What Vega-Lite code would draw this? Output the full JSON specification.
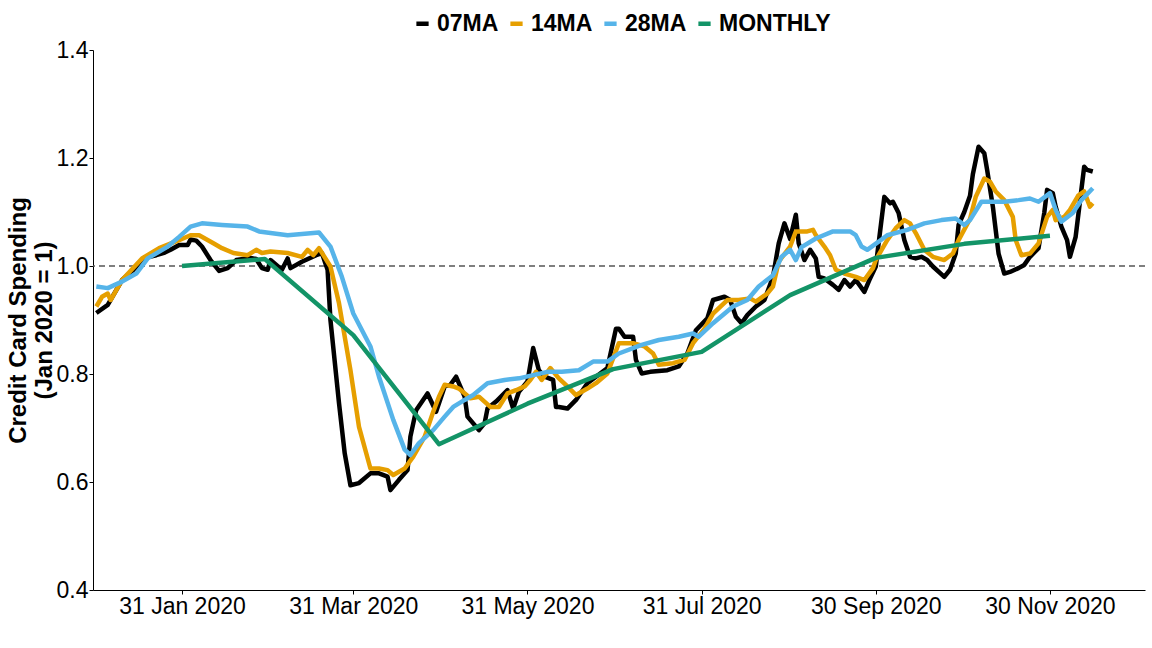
{
  "$schema": "https://vega.github.io/schema/vega-lite/v6.json",
  "width": 1052,
  "height": 540,
  "autosize": {"type": "none"},
  "padding": {"left": 93, "top": 50, "right": 7, "bottom": 58},
  "background": "white",
  "config": {"view": {"stroke": null}, "font": "Liberation Sans"},
  "datasets": {
    "spending": [
      {"date": "2020-01-01", "series": "07MA", "value": 0.913},
      {"date": "2020-01-05", "series": "07MA", "value": 0.928},
      {"date": "2020-01-10", "series": "07MA", "value": 0.974},
      {"date": "2020-01-14", "series": "07MA", "value": 0.993},
      {"date": "2020-01-18", "series": "07MA", "value": 1.015},
      {"date": "2020-01-22", "series": "07MA", "value": 1.02},
      {"date": "2020-01-25", "series": "07MA", "value": 1.025},
      {"date": "2020-01-27", "series": "07MA", "value": 1.03},
      {"date": "2020-01-30", "series": "07MA", "value": 1.039},
      {"date": "2020-02-02", "series": "07MA", "value": 1.039},
      {"date": "2020-02-03", "series": "07MA", "value": 1.049},
      {"date": "2020-02-05", "series": "07MA", "value": 1.047},
      {"date": "2020-02-07", "series": "07MA", "value": 1.036},
      {"date": "2020-02-10", "series": "07MA", "value": 1.011},
      {"date": "2020-02-13", "series": "07MA", "value": 0.991},
      {"date": "2020-02-16", "series": "07MA", "value": 0.996},
      {"date": "2020-02-19", "series": "07MA", "value": 1.011},
      {"date": "2020-02-24", "series": "07MA", "value": 1.015},
      {"date": "2020-02-26", "series": "07MA", "value": 1.013},
      {"date": "2020-02-28", "series": "07MA", "value": 0.996},
      {"date": "2020-03-01", "series": "07MA", "value": 0.993},
      {"date": "2020-03-02", "series": "07MA", "value": 1.011},
      {"date": "2020-03-06", "series": "07MA", "value": 0.993},
      {"date": "2020-03-08", "series": "07MA", "value": 1.014},
      {"date": "2020-03-09", "series": "07MA", "value": 0.996},
      {"date": "2020-03-13", "series": "07MA", "value": 1.008},
      {"date": "2020-03-18", "series": "07MA", "value": 1.02},
      {"date": "2020-03-20", "series": "07MA", "value": 1.024},
      {"date": "2020-03-22", "series": "07MA", "value": 0.993},
      {"date": "2020-03-23", "series": "07MA", "value": 0.9},
      {"date": "2020-03-26", "series": "07MA", "value": 0.746},
      {"date": "2020-03-28", "series": "07MA", "value": 0.653},
      {"date": "2020-03-30", "series": "07MA", "value": 0.594},
      {"date": "2020-04-02", "series": "07MA", "value": 0.598},
      {"date": "2020-04-06", "series": "07MA", "value": 0.616},
      {"date": "2020-04-09", "series": "07MA", "value": 0.616},
      {"date": "2020-04-12", "series": "07MA", "value": 0.61},
      {"date": "2020-04-13", "series": "07MA", "value": 0.585},
      {"date": "2020-04-16", "series": "07MA", "value": 0.604},
      {"date": "2020-04-19", "series": "07MA", "value": 0.622},
      {"date": "2020-04-20", "series": "07MA", "value": 0.684},
      {"date": "2020-04-22", "series": "07MA", "value": 0.733},
      {"date": "2020-04-26", "series": "07MA", "value": 0.764},
      {"date": "2020-04-29", "series": "07MA", "value": 0.73},
      {"date": "2020-05-02", "series": "07MA", "value": 0.777},
      {"date": "2020-05-04", "series": "07MA", "value": 0.78},
      {"date": "2020-05-06", "series": "07MA", "value": 0.795},
      {"date": "2020-05-09", "series": "07MA", "value": 0.758},
      {"date": "2020-05-10", "series": "07MA", "value": 0.721},
      {"date": "2020-05-14", "series": "07MA", "value": 0.696},
      {"date": "2020-05-16", "series": "07MA", "value": 0.709},
      {"date": "2020-05-17", "series": "07MA", "value": 0.736},
      {"date": "2020-05-20", "series": "07MA", "value": 0.749},
      {"date": "2020-05-24", "series": "07MA", "value": 0.77},
      {"date": "2020-05-26", "series": "07MA", "value": 0.736},
      {"date": "2020-05-28", "series": "07MA", "value": 0.767},
      {"date": "2020-05-31", "series": "07MA", "value": 0.786},
      {"date": "2020-06-02", "series": "07MA", "value": 0.848},
      {"date": "2020-06-04", "series": "07MA", "value": 0.807},
      {"date": "2020-06-06", "series": "07MA", "value": 0.795},
      {"date": "2020-06-09", "series": "07MA", "value": 0.789},
      {"date": "2020-06-10", "series": "07MA", "value": 0.739},
      {"date": "2020-06-11", "series": "07MA", "value": 0.739},
      {"date": "2020-06-14", "series": "07MA", "value": 0.736},
      {"date": "2020-06-17", "series": "07MA", "value": 0.752},
      {"date": "2020-06-21", "series": "07MA", "value": 0.783},
      {"date": "2020-06-24", "series": "07MA", "value": 0.795},
      {"date": "2020-06-28", "series": "07MA", "value": 0.811},
      {"date": "2020-07-01", "series": "07MA", "value": 0.884},
      {"date": "2020-07-02", "series": "07MA", "value": 0.884},
      {"date": "2020-07-04", "series": "07MA", "value": 0.869},
      {"date": "2020-07-07", "series": "07MA", "value": 0.869},
      {"date": "2020-07-08", "series": "07MA", "value": 0.826},
      {"date": "2020-07-10", "series": "07MA", "value": 0.801},
      {"date": "2020-07-13", "series": "07MA", "value": 0.804},
      {"date": "2020-07-19", "series": "07MA", "value": 0.807},
      {"date": "2020-07-23", "series": "07MA", "value": 0.814},
      {"date": "2020-07-26", "series": "07MA", "value": 0.838},
      {"date": "2020-07-29", "series": "07MA", "value": 0.881},
      {"date": "2020-08-02", "series": "07MA", "value": 0.903},
      {"date": "2020-08-04", "series": "07MA", "value": 0.937},
      {"date": "2020-08-08", "series": "07MA", "value": 0.943},
      {"date": "2020-08-10", "series": "07MA", "value": 0.937},
      {"date": "2020-08-12", "series": "07MA", "value": 0.906},
      {"date": "2020-08-14", "series": "07MA", "value": 0.894},
      {"date": "2020-08-16", "series": "07MA", "value": 0.909},
      {"date": "2020-08-19", "series": "07MA", "value": 0.925},
      {"date": "2020-08-22", "series": "07MA", "value": 0.937},
      {"date": "2020-08-25", "series": "07MA", "value": 0.98},
      {"date": "2020-08-27", "series": "07MA", "value": 1.042},
      {"date": "2020-08-29", "series": "07MA", "value": 1.079},
      {"date": "2020-08-31", "series": "07MA", "value": 1.05},
      {"date": "2020-09-02", "series": "07MA", "value": 1.095},
      {"date": "2020-09-03", "series": "07MA", "value": 1.042},
      {"date": "2020-09-05", "series": "07MA", "value": 1.011},
      {"date": "2020-09-07", "series": "07MA", "value": 1.03},
      {"date": "2020-09-09", "series": "07MA", "value": 1.014},
      {"date": "2020-09-10", "series": "07MA", "value": 0.98},
      {"date": "2020-09-12", "series": "07MA", "value": 0.977},
      {"date": "2020-09-15", "series": "07MA", "value": 0.965},
      {"date": "2020-09-17", "series": "07MA", "value": 0.956},
      {"date": "2020-09-19", "series": "07MA", "value": 0.974},
      {"date": "2020-09-21", "series": "07MA", "value": 0.962},
      {"date": "2020-09-23", "series": "07MA", "value": 0.974},
      {"date": "2020-09-26", "series": "07MA", "value": 0.952},
      {"date": "2020-09-28", "series": "07MA", "value": 0.977},
      {"date": "2020-09-30", "series": "07MA", "value": 0.999},
      {"date": "2020-10-02", "series": "07MA", "value": 1.085},
      {"date": "2020-10-03", "series": "07MA", "value": 1.128},
      {"date": "2020-10-05", "series": "07MA", "value": 1.116},
      {"date": "2020-10-06", "series": "07MA", "value": 1.119},
      {"date": "2020-10-08", "series": "07MA", "value": 1.098},
      {"date": "2020-10-10", "series": "07MA", "value": 1.048},
      {"date": "2020-10-12", "series": "07MA", "value": 1.017},
      {"date": "2020-10-14", "series": "07MA", "value": 1.014},
      {"date": "2020-10-16", "series": "07MA", "value": 1.017},
      {"date": "2020-10-18", "series": "07MA", "value": 1.011},
      {"date": "2020-10-20", "series": "07MA", "value": 0.999},
      {"date": "2020-10-24", "series": "07MA", "value": 0.98},
      {"date": "2020-10-26", "series": "07MA", "value": 0.993},
      {"date": "2020-10-28", "series": "07MA", "value": 1.023},
      {"date": "2020-10-29", "series": "07MA", "value": 1.076},
      {"date": "2020-10-31", "series": "07MA", "value": 1.1},
      {"date": "2020-11-02", "series": "07MA", "value": 1.13},
      {"date": "2020-11-03", "series": "07MA", "value": 1.17},
      {"date": "2020-11-05", "series": "07MA", "value": 1.221},
      {"date": "2020-11-07", "series": "07MA", "value": 1.209},
      {"date": "2020-11-08", "series": "07MA", "value": 1.178},
      {"date": "2020-11-10", "series": "07MA", "value": 1.11},
      {"date": "2020-11-12", "series": "07MA", "value": 1.023},
      {"date": "2020-11-14", "series": "07MA", "value": 0.986},
      {"date": "2020-11-16", "series": "07MA", "value": 0.989},
      {"date": "2020-11-19", "series": "07MA", "value": 0.996},
      {"date": "2020-11-21", "series": "07MA", "value": 1.002},
      {"date": "2020-11-23", "series": "07MA", "value": 1.017},
      {"date": "2020-11-26", "series": "07MA", "value": 1.033},
      {"date": "2020-11-28", "series": "07MA", "value": 1.098},
      {"date": "2020-11-29", "series": "07MA", "value": 1.141},
      {"date": "2020-12-01", "series": "07MA", "value": 1.135},
      {"date": "2020-12-02", "series": "07MA", "value": 1.11},
      {"date": "2020-12-04", "series": "07MA", "value": 1.073},
      {"date": "2020-12-06", "series": "07MA", "value": 1.048},
      {"date": "2020-12-07", "series": "07MA", "value": 1.017},
      {"date": "2020-12-09", "series": "07MA", "value": 1.054},
      {"date": "2020-12-11", "series": "07MA", "value": 1.141},
      {"date": "2020-12-12", "series": "07MA", "value": 1.184},
      {"date": "2020-12-13", "series": "07MA", "value": 1.178},
      {"date": "2020-12-15", "series": "07MA", "value": 1.175},

      {"date": "2020-01-01", "series": "14MA", "value": 0.925},
      {"date": "2020-01-03", "series": "14MA", "value": 0.943},
      {"date": "2020-01-05", "series": "14MA", "value": 0.949},
      {"date": "2020-01-06", "series": "14MA", "value": 0.937},
      {"date": "2020-01-10", "series": "14MA", "value": 0.974},
      {"date": "2020-01-17", "series": "14MA", "value": 1.014},
      {"date": "2020-01-23", "series": "14MA", "value": 1.033},
      {"date": "2020-01-30", "series": "14MA", "value": 1.048},
      {"date": "2020-02-03", "series": "14MA", "value": 1.057},
      {"date": "2020-02-06", "series": "14MA", "value": 1.057},
      {"date": "2020-02-11", "series": "14MA", "value": 1.042},
      {"date": "2020-02-14", "series": "14MA", "value": 1.033},
      {"date": "2020-02-18", "series": "14MA", "value": 1.024},
      {"date": "2020-02-23", "series": "14MA", "value": 1.02},
      {"date": "2020-02-26", "series": "14MA", "value": 1.03},
      {"date": "2020-02-28", "series": "14MA", "value": 1.024},
      {"date": "2020-03-02", "series": "14MA", "value": 1.027},
      {"date": "2020-03-08", "series": "14MA", "value": 1.024},
      {"date": "2020-03-13", "series": "14MA", "value": 1.017},
      {"date": "2020-03-15", "series": "14MA", "value": 1.03},
      {"date": "2020-03-17", "series": "14MA", "value": 1.02},
      {"date": "2020-03-19", "series": "14MA", "value": 1.033},
      {"date": "2020-03-23", "series": "14MA", "value": 0.999},
      {"date": "2020-03-26", "series": "14MA", "value": 0.931},
      {"date": "2020-03-30", "series": "14MA", "value": 0.807},
      {"date": "2020-04-02", "series": "14MA", "value": 0.702},
      {"date": "2020-04-06", "series": "14MA", "value": 0.625},
      {"date": "2020-04-09", "series": "14MA", "value": 0.625},
      {"date": "2020-04-12", "series": "14MA", "value": 0.622},
      {"date": "2020-04-14", "series": "14MA", "value": 0.613},
      {"date": "2020-04-18", "series": "14MA", "value": 0.625},
      {"date": "2020-04-21", "series": "14MA", "value": 0.647},
      {"date": "2020-04-25", "series": "14MA", "value": 0.684},
      {"date": "2020-04-28", "series": "14MA", "value": 0.73},
      {"date": "2020-04-30", "series": "14MA", "value": 0.758},
      {"date": "2020-05-02", "series": "14MA", "value": 0.78},
      {"date": "2020-05-05", "series": "14MA", "value": 0.777},
      {"date": "2020-05-07", "series": "14MA", "value": 0.773},
      {"date": "2020-05-11", "series": "14MA", "value": 0.755},
      {"date": "2020-05-14", "series": "14MA", "value": 0.758},
      {"date": "2020-05-18", "series": "14MA", "value": 0.739},
      {"date": "2020-05-21", "series": "14MA", "value": 0.739},
      {"date": "2020-05-24", "series": "14MA", "value": 0.764},
      {"date": "2020-05-27", "series": "14MA", "value": 0.77},
      {"date": "2020-05-30", "series": "14MA", "value": 0.777},
      {"date": "2020-06-01", "series": "14MA", "value": 0.789},
      {"date": "2020-06-03", "series": "14MA", "value": 0.804},
      {"date": "2020-06-05", "series": "14MA", "value": 0.789},
      {"date": "2020-06-08", "series": "14MA", "value": 0.811},
      {"date": "2020-06-11", "series": "14MA", "value": 0.792},
      {"date": "2020-06-14", "series": "14MA", "value": 0.777},
      {"date": "2020-06-17", "series": "14MA", "value": 0.761},
      {"date": "2020-06-21", "series": "14MA", "value": 0.773},
      {"date": "2020-06-24", "series": "14MA", "value": 0.783},
      {"date": "2020-06-28", "series": "14MA", "value": 0.801},
      {"date": "2020-06-29", "series": "14MA", "value": 0.815},
      {"date": "2020-07-02", "series": "14MA", "value": 0.857},
      {"date": "2020-07-07", "series": "14MA", "value": 0.857},
      {"date": "2020-07-11", "series": "14MA", "value": 0.851},
      {"date": "2020-07-14", "series": "14MA", "value": 0.838},
      {"date": "2020-07-16", "series": "14MA", "value": 0.817},
      {"date": "2020-07-21", "series": "14MA", "value": 0.82},
      {"date": "2020-07-25", "series": "14MA", "value": 0.826},
      {"date": "2020-07-28", "series": "14MA", "value": 0.857},
      {"date": "2020-08-01", "series": "14MA", "value": 0.884},
      {"date": "2020-08-04", "series": "14MA", "value": 0.912},
      {"date": "2020-08-09", "series": "14MA", "value": 0.937},
      {"date": "2020-08-13", "series": "14MA", "value": 0.937},
      {"date": "2020-08-17", "series": "14MA", "value": 0.94},
      {"date": "2020-08-19", "series": "14MA", "value": 0.934},
      {"date": "2020-08-23", "series": "14MA", "value": 0.949},
      {"date": "2020-08-25", "series": "14MA", "value": 0.962},
      {"date": "2020-08-27", "series": "14MA", "value": 1.008},
      {"date": "2020-08-31", "series": "14MA", "value": 1.036},
      {"date": "2020-09-02", "series": "14MA", "value": 1.064},
      {"date": "2020-09-06", "series": "14MA", "value": 1.064},
      {"date": "2020-09-08", "series": "14MA", "value": 1.067},
      {"date": "2020-09-09", "series": "14MA", "value": 1.057},
      {"date": "2020-09-12", "series": "14MA", "value": 1.036},
      {"date": "2020-09-14", "series": "14MA", "value": 1.02},
      {"date": "2020-09-16", "series": "14MA", "value": 0.993},
      {"date": "2020-09-19", "series": "14MA", "value": 0.986},
      {"date": "2020-09-23", "series": "14MA", "value": 0.98},
      {"date": "2020-09-26", "series": "14MA", "value": 0.974},
      {"date": "2020-09-29", "series": "14MA", "value": 0.996},
      {"date": "2020-09-30", "series": "14MA", "value": 1.011},
      {"date": "2020-10-04", "series": "14MA", "value": 1.048},
      {"date": "2020-10-07", "series": "14MA", "value": 1.07},
      {"date": "2020-10-10", "series": "14MA", "value": 1.085},
      {"date": "2020-10-12", "series": "14MA", "value": 1.079},
      {"date": "2020-10-14", "series": "14MA", "value": 1.061},
      {"date": "2020-10-17", "series": "14MA", "value": 1.03},
      {"date": "2020-10-20", "series": "14MA", "value": 1.017},
      {"date": "2020-10-24", "series": "14MA", "value": 1.011},
      {"date": "2020-10-27", "series": "14MA", "value": 1.023},
      {"date": "2020-10-29", "series": "14MA", "value": 1.048},
      {"date": "2020-11-02", "series": "14MA", "value": 1.087},
      {"date": "2020-11-04", "series": "14MA", "value": 1.128},
      {"date": "2020-11-07", "series": "14MA", "value": 1.162},
      {"date": "2020-11-09", "series": "14MA", "value": 1.156},
      {"date": "2020-11-11", "series": "14MA", "value": 1.138},
      {"date": "2020-11-14", "series": "14MA", "value": 1.122},
      {"date": "2020-11-17", "series": "14MA", "value": 1.091},
      {"date": "2020-11-18", "series": "14MA", "value": 1.048},
      {"date": "2020-11-20", "series": "14MA", "value": 1.02},
      {"date": "2020-11-23", "series": "14MA", "value": 1.023},
      {"date": "2020-11-26", "series": "14MA", "value": 1.042},
      {"date": "2020-11-29", "series": "14MA", "value": 1.091},
      {"date": "2020-12-01", "series": "14MA", "value": 1.104},
      {"date": "2020-12-02", "series": "14MA", "value": 1.085},
      {"date": "2020-12-05", "series": "14MA", "value": 1.091},
      {"date": "2020-12-07", "series": "14MA", "value": 1.104},
      {"date": "2020-12-10", "series": "14MA", "value": 1.131},
      {"date": "2020-12-12", "series": "14MA", "value": 1.138},
      {"date": "2020-12-14", "series": "14MA", "value": 1.11},
      {"date": "2020-12-15", "series": "14MA", "value": 1.116},

      {"date": "2020-01-01", "series": "28MA", "value": 0.962},
      {"date": "2020-01-05", "series": "28MA", "value": 0.959},
      {"date": "2020-01-10", "series": "28MA", "value": 0.971},
      {"date": "2020-01-15", "series": "28MA", "value": 0.986},
      {"date": "2020-01-19", "series": "28MA", "value": 1.014},
      {"date": "2020-01-26", "series": "28MA", "value": 1.036},
      {"date": "2020-01-30", "series": "28MA", "value": 1.054},
      {"date": "2020-02-03", "series": "28MA", "value": 1.073},
      {"date": "2020-02-07", "series": "28MA", "value": 1.079},
      {"date": "2020-02-14", "series": "28MA", "value": 1.076},
      {"date": "2020-02-23", "series": "28MA", "value": 1.073},
      {"date": "2020-02-27", "series": "28MA", "value": 1.064},
      {"date": "2020-03-08", "series": "28MA", "value": 1.057},
      {"date": "2020-03-19", "series": "28MA", "value": 1.062},
      {"date": "2020-03-23", "series": "28MA", "value": 1.036},
      {"date": "2020-03-27", "series": "28MA", "value": 0.98},
      {"date": "2020-03-31", "series": "28MA", "value": 0.912},
      {"date": "2020-04-06", "series": "28MA", "value": 0.851},
      {"date": "2020-04-09", "series": "28MA", "value": 0.795},
      {"date": "2020-04-14", "series": "28MA", "value": 0.715},
      {"date": "2020-04-18", "series": "28MA", "value": 0.66},
      {"date": "2020-04-20", "series": "28MA", "value": 0.65},
      {"date": "2020-04-23", "series": "28MA", "value": 0.672},
      {"date": "2020-04-28", "series": "28MA", "value": 0.696},
      {"date": "2020-05-02", "series": "28MA", "value": 0.721},
      {"date": "2020-05-05", "series": "28MA", "value": 0.739},
      {"date": "2020-05-09", "series": "28MA", "value": 0.752},
      {"date": "2020-05-12", "series": "28MA", "value": 0.761},
      {"date": "2020-05-17", "series": "28MA", "value": 0.783},
      {"date": "2020-05-23", "series": "28MA", "value": 0.789},
      {"date": "2020-05-28", "series": "28MA", "value": 0.792},
      {"date": "2020-06-02", "series": "28MA", "value": 0.798},
      {"date": "2020-06-07", "series": "28MA", "value": 0.804},
      {"date": "2020-06-12", "series": "28MA", "value": 0.804},
      {"date": "2020-06-18", "series": "28MA", "value": 0.807},
      {"date": "2020-06-23", "series": "28MA", "value": 0.823},
      {"date": "2020-06-28", "series": "28MA", "value": 0.823},
      {"date": "2020-07-02", "series": "28MA", "value": 0.838},
      {"date": "2020-07-10", "series": "28MA", "value": 0.854},
      {"date": "2020-07-16", "series": "28MA", "value": 0.863},
      {"date": "2020-07-23", "series": "28MA", "value": 0.869},
      {"date": "2020-07-28", "series": "28MA", "value": 0.875},
      {"date": "2020-07-30", "series": "28MA", "value": 0.869},
      {"date": "2020-08-04", "series": "28MA", "value": 0.894},
      {"date": "2020-08-11", "series": "28MA", "value": 0.925},
      {"date": "2020-08-16", "series": "28MA", "value": 0.937},
      {"date": "2020-08-20", "series": "28MA", "value": 0.962},
      {"date": "2020-08-25", "series": "28MA", "value": 0.983},
      {"date": "2020-08-28", "series": "28MA", "value": 1.017},
      {"date": "2020-08-31", "series": "28MA", "value": 1.03},
      {"date": "2020-09-02", "series": "28MA", "value": 1.011},
      {"date": "2020-09-04", "series": "28MA", "value": 1.035},
      {"date": "2020-09-09", "series": "28MA", "value": 1.051},
      {"date": "2020-09-15", "series": "28MA", "value": 1.064},
      {"date": "2020-09-21", "series": "28MA", "value": 1.064},
      {"date": "2020-09-23", "series": "28MA", "value": 1.057},
      {"date": "2020-09-25", "series": "28MA", "value": 1.036},
      {"date": "2020-09-27", "series": "28MA", "value": 1.03},
      {"date": "2020-10-01", "series": "28MA", "value": 1.045},
      {"date": "2020-10-04", "series": "28MA", "value": 1.057},
      {"date": "2020-10-11", "series": "28MA", "value": 1.067},
      {"date": "2020-10-17", "series": "28MA", "value": 1.079},
      {"date": "2020-10-23", "series": "28MA", "value": 1.085},
      {"date": "2020-10-28", "series": "28MA", "value": 1.088},
      {"date": "2020-10-31", "series": "28MA", "value": 1.076},
      {"date": "2020-11-02", "series": "28MA", "value": 1.085},
      {"date": "2020-11-06", "series": "28MA", "value": 1.119},
      {"date": "2020-11-10", "series": "28MA", "value": 1.119},
      {"date": "2020-11-14", "series": "28MA", "value": 1.119},
      {"date": "2020-11-19", "series": "28MA", "value": 1.122},
      {"date": "2020-11-23", "series": "28MA", "value": 1.125},
      {"date": "2020-11-26", "series": "28MA", "value": 1.119},
      {"date": "2020-11-30", "series": "28MA", "value": 1.135},
      {"date": "2020-12-02", "series": "28MA", "value": 1.104},
      {"date": "2020-12-04", "series": "28MA", "value": 1.082},
      {"date": "2020-12-08", "series": "28MA", "value": 1.098},
      {"date": "2020-12-11", "series": "28MA", "value": 1.122},
      {"date": "2020-12-15", "series": "28MA", "value": 1.144},

      {"date": "2020-01-31", "series": "MONTHLY", "value": 1.0},
      {"date": "2020-02-29", "series": "MONTHLY", "value": 1.013},
      {"date": "2020-03-31", "series": "MONTHLY", "value": 0.872},
      {"date": "2020-04-30", "series": "MONTHLY", "value": 0.67},
      {"date": "2020-05-31", "series": "MONTHLY", "value": 0.745},
      {"date": "2020-06-30", "series": "MONTHLY", "value": 0.809},
      {"date": "2020-07-31", "series": "MONTHLY", "value": 0.841},
      {"date": "2020-08-31", "series": "MONTHLY", "value": 0.946},
      {"date": "2020-09-30", "series": "MONTHLY", "value": 1.015},
      {"date": "2020-10-31", "series": "MONTHLY", "value": 1.041},
      {"date": "2020-11-30", "series": "MONTHLY", "value": 1.056}
    ]
  },
  "layer": [
    {
      "data": {"values": [{"baseline": 1}]},
      "mark": {"type": "rule", "color": "#555555", "strokeDash": [6, 4], "strokeWidth": 1.4},
      "encoding": {"y": {"field": "baseline", "type": "quantitative"}}
    },
    {
      "data": {"name": "spending"},
      "mark": {"type": "line", "strokeWidth": 4.5, "strokeJoin": "round"},
      "encoding": {
        "x": {
          "field": "date",
          "type": "temporal",
          "scale": {
            "type": "utc",
            "domain": [
              {"year": 2019, "month": 12, "date": 30, "hours": 20, "utc": true},
              {"year": 2021, "month": 1, "date": 2, "hours": 7, "utc": true}
            ]
          },
          "axis": {
            "title": null,
            "grid": false,
            "values": [
              {"year": 2020, "month": 1, "date": 31, "utc": true},
              {"year": 2020, "month": 3, "date": 31, "utc": true},
              {"year": 2020, "month": 5, "date": 31, "utc": true},
              {"year": 2020, "month": 7, "date": 31, "utc": true},
              {"year": 2020, "month": 9, "date": 30, "utc": true},
              {"year": 2020, "month": 11, "date": 30, "utc": true}
            ],
            "format": "%d %b %Y",
            "labelOverlap": false,
            "labelFontSize": 23,
            "labelColor": "black",
            "labelPadding": 1,
            "domainColor": "black",
            "tickColor": "black",
            "tickSize": 4
          }
        },
        "y": {
          "field": "value",
          "type": "quantitative",
          "scale": {"domain": [0.4, 1.4], "nice": false, "zero": false},
          "axis": {
            "title": ["Credit Card Spending", "(Jan 2020 = 1)"],
            "titleFontSize": 24,
            "titleFontWeight": "bold",
            "titleColor": "black",
            "titlePadding": 0,
            "grid": false,
            "values": [0.4, 0.6, 0.8, 1.0, 1.2, 1.4],
            "format": ".1f",
            "labelFontSize": 23,
            "labelColor": "black",
            "labelPadding": 1,
            "domainColor": "black",
            "tickColor": "black",
            "tickSize": 4
          }
        },
        "color": {
          "field": "series",
          "type": "nominal",
          "scale": {
            "domain": ["07MA", "14MA", "28MA", "MONTHLY"],
            "range": ["#000000", "#E69F00", "#56B4E9", "#139467"]
          },
          "legend": {
            "orient": "none",
            "legendX": 318,
            "legendY": -38,
            "direction": "horizontal",
            "title": null,
            "padding": 0,
            "symbolType": "stroke",
            "symbolStrokeWidth": 4.5,
            "symbolSize": 150,
            "labelFontSize": 23,
            "labelFontWeight": "bold",
            "labelColor": "black",
            "labelOffset": 3,
            "columnPadding": 2
          }
        }
      }
    }
  ]
}
